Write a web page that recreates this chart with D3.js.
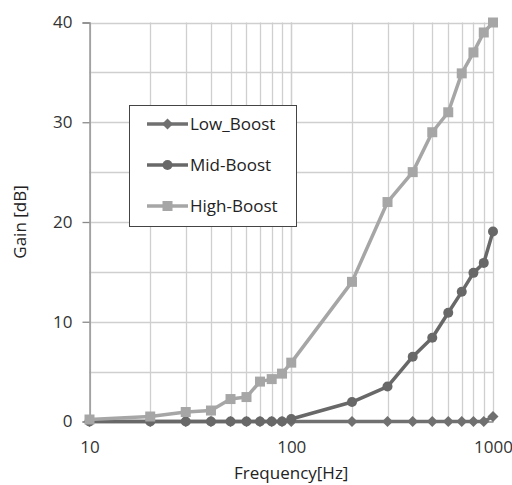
<!DOCTYPE html>
<html>
<head>
<meta charset="utf-8">
<script src="https://cdn.jsdelivr.net/npm/d3@7"></script>
<style>
  html, body { margin: 0; padding: 0; background: #fff; }
  svg { display: block; font-family: "Open Sans", "Noto Sans", sans-serif; }
</style>
</head>
<body>
<svg id="chart" width="512" height="485"></svg>
<script>
// Frequencies (Hz) at which each gain curve was measured
const frequencies = [10, 20, 30, 40, 50, 60, 70, 80, 90, 100, 200, 300, 400, 500, 600, 700, 800, 900, 1000];

// Gain (dB) per series
const lowBoost  = [0, 0, 0, 0, 0, 0, 0, 0, 0, 0, 0, 0, 0, 0, 0, 0, 0, 0, 0.5];
const midBoost  = [0, 0, 0, 0, 0, 0, 0, 0, 0, 0.25, 1.95, 3.5, 6.5, 8.4, 10.9, 13.0, 14.9, 15.9, 19.05];
const highBoost = [0.2, 0.5, 0.95, 1.1, 2.25, 2.45, 4.0, 4.25, 4.8, 5.9, 14.0, 22.0, 25.0, 29.0, 31.0, 34.9, 37.0, 39.0, 40.0];

const seriesNames = ["Low_Boost", "Mid-Boost", "High-Boost"];
const xTickValues = [10, 100, 1000];
const yTickValues = [0, 10, 20, 30, 40];

const series = [
  { name: seriesNames[0], values: lowBoost,  color: "#707070", marker: "diamond" },
  { name: seriesNames[1], values: midBoost,  color: "#686868", marker: "circle" },
  { name: seriesNames[2], values: highBoost, color: "#a6a6a6", marker: "square" }
];

const FONT = 17;
const svg = d3.select("#chart");
const plot = { left: 89.5, right: 493, top: 22.5, bottom: 421.5 };

const x = d3.scaleLog().domain([10, 1000]).range([plot.left, plot.right]);
const y = d3.scaleLinear().domain([0, 40]).range([plot.bottom, plot.top]);

// Grid: every log step vertically, every 5 dB horizontally
const g = svg.append("g");
const minorX = [];
for (let dec = 10; dec < 1000; dec *= 10) {
  for (let k = 1; k <= 10; k++) minorX.push(dec * k);
}
g.selectAll(".vgrid").data(minorX).join("line")
  .attr("x1", d => Math.round(x(d)) + 0.5).attr("x2", d => Math.round(x(d)) + 0.5)
  .attr("y1", plot.top).attr("y2", plot.bottom)
  .attr("stroke", "#cfcfcf").attr("stroke-width", 1.3);
g.selectAll(".hgrid").data(d3.range(5, 41, 5)).join("line")
  .attr("x1", plot.left).attr("x2", plot.right)
  .attr("y1", d => Math.round(y(d)) + 0.5).attr("y2", d => Math.round(y(d)) + 0.5)
  .attr("stroke", "#cfcfcf").attr("stroke-width", 1.3);

// Y axis (left) with outward ticks at the labelled values
const yAxis = d3.axisLeft(y).tickValues(yTickValues).tickSize(7).tickPadding(10).tickFormat(d3.format("d"));
const yg = svg.append("g").attr("transform", `translate(${plot.left},0)`).call(yAxis);
yg.select(".domain").attr("stroke", "#8a8a8a").attr("stroke-width", 1.3);
yg.selectAll(".tick line").attr("stroke", "#8a8a8a").attr("stroke-width", 1.3);
yg.selectAll(".tick text").attr("font-size", FONT).attr("fill", "#333").attr("font-family", "Open Sans, sans-serif");

// X axis (bottom), no tick marks
const xAxis = d3.axisBottom(x).tickValues(xTickValues).tickSize(0).tickPadding(19).tickFormat(d3.format("d"));
const xg = svg.append("g").attr("transform", `translate(0,${plot.bottom})`).call(xAxis);
xg.select(".domain").attr("stroke", "#8a8a8a").attr("stroke-width", 1.3);
xg.selectAll(".tick text").attr("font-size", FONT).attr("fill", "#333").attr("font-family", "Open Sans, sans-serif");

// Axis titles
svg.append("text").attr("x", (plot.left + plot.right) / 2).attr("y", 479)
  .attr("text-anchor", "middle").attr("font-size", FONT).attr("fill", "#222").text("Frequency[Hz]");
svg.append("text").attr("transform", `translate(26,${(plot.top + plot.bottom) / 2}) rotate(-90)`)
  .attr("text-anchor", "middle").attr("font-size", FONT).attr("fill", "#222").text("Gain [dB]");

// Marker drawing
function drawMarker(sel, type, color) {
  if (type === "diamond") {
    sel.append("path").attr("d", "M0,-5.5L5.5,0L0,5.5L-5.5,0Z").attr("fill", color);
  } else if (type === "circle") {
    sel.append("circle").attr("r", 5).attr("fill", color);
  } else {
    sel.append("rect").attr("x", -5).attr("y", -5).attr("width", 10).attr("height", 10).attr("fill", color);
  }
}

const line = d3.line().x(d => x(d.f)).y(d => y(d.v));
series.forEach(s => {
  const pts = frequencies.map((f, i) => ({ f, v: s.values[i] }));
  const sg = svg.append("g");
  sg.append("path").datum(pts).attr("d", line)
    .attr("fill", "none").attr("stroke", s.color).attr("stroke-width", 3.5).attr("stroke-linejoin", "round");
  sg.selectAll("g.pt").data(pts).join("g")
    .attr("transform", d => `translate(${x(d.f)},${y(d.v)})`)
    .each(function () { drawMarker(d3.select(this), s.marker, s.color); });
});

// Legend
const legend = svg.append("g");
legend.append("rect").attr("x", 129.5).attr("y", 105.5).attr("width", 167).attr("height", 121)
  .attr("fill", "#fff").attr("stroke", "#444").attr("stroke-width", 1);
const legendRows = [124, 165, 206];
series.forEach((s, i) => {
  const row = legend.append("g").attr("transform", `translate(0,${legendRows[i]})`);
  row.append("line").attr("x1", 147).attr("x2", 188).attr("y1", 0).attr("y2", 0)
    .attr("stroke", s.color).attr("stroke-width", 3.5);
  const m = row.append("g").attr("transform", "translate(167.5,0)");
  drawMarker(m, s.marker, s.color);
  row.append("text").attr("x", 190).attr("y", 6).attr("font-size", FONT).attr("fill", "#222").text(s.name);
});
</script>
</body>
</html>
